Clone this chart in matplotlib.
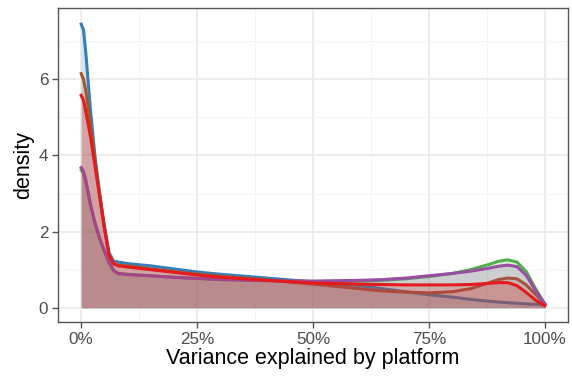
import numpy as np
import matplotlib
matplotlib.use("Agg")
import matplotlib.pyplot as plt
from matplotlib.ticker import FixedLocator, FuncFormatter

plt.rcParams['font.family'] = ['Liberation Sans', 'DejaVu Sans']

# share of variance explained by platform (0..1)
x = [0, 0.005, 0.01, 0.02, 0.03, 0.04, 0.05, 0.06, 0.07, 0.08,
     0.1, 0.15, 0.2, 0.25, 0.3, 0.4, 0.5, 0.6, 0.65, 0.7, 0.75, 0.8,
     0.84, 0.88, 0.9, 0.92, 0.94, 0.96, 0.98, 1.0]

# density, one list per group
blue = [7.45, 7.3, 6.7, 5.2, 3.95, 3.0, 2.15, 1.45, 1.22, 1.2,
        1.16, 1.1, 1.02, 0.94, 0.88, 0.78, 0.68, 0.58, 0.5, 0.42, 0.34, 0.28,
        0.22, 0.17, 0.15, 0.13, 0.12, 0.1, 0.09, 0.08]
green = [3.62, 3.53, 3.3, 2.7, 2.2, 1.8, 1.48, 1.18, 0.97, 0.89,
         0.88, 0.84, 0.8, 0.77, 0.74, 0.71, 0.69, 0.7, 0.72, 0.76, 0.82, 0.9,
         1.0, 1.14, 1.22, 1.26, 1.2, 0.95, 0.5, 0.1]
brown = [6.15, 6.0, 5.7, 4.8, 3.85, 2.95, 2.1, 1.4, 1.17, 1.12,
         1.1, 1.02, 0.95, 0.88, 0.83, 0.73, 0.62, 0.5, 0.44, 0.41, 0.39, 0.42,
         0.5, 0.66, 0.74, 0.78, 0.76, 0.6, 0.35, 0.1]
purple = [3.68, 3.58, 3.35, 2.72, 2.22, 1.82, 1.5, 1.2, 0.98, 0.9,
          0.87, 0.84, 0.8, 0.77, 0.74, 0.71, 0.7, 0.72, 0.74, 0.78, 0.84, 0.9,
          0.96, 1.04, 1.09, 1.12, 1.08, 0.85, 0.45, 0.1]
red = [5.58, 5.45, 5.15, 4.5, 3.7, 2.9, 2.1, 1.38, 1.15, 1.1,
       1.07, 1.0, 0.93, 0.86, 0.8, 0.72, 0.65, 0.62, 0.61, 0.6, 0.6, 0.6,
       0.61, 0.64, 0.66, 0.66, 0.58, 0.4, 0.2, 0.05]

series = [(blue, "#377EB8"), (green, "#4DAF4A"), (brown, "#A65628"),
          (purple, "#984EA3"), (red, "#E41A1C")]

fig = plt.figure(figsize=(5.72, 3.77), dpi=100)
ax = fig.add_axes([58/572, 1-322/377, 510/572, 314/377])

z = 3
for vals, col in series:
    ax.fill_between(x, 0, vals, color=col, alpha=0.2, linewidth=0, zorder=z)
    ax.plot(x, vals, color=col, lw=2.2, zorder=z+1, solid_joinstyle='round')
    z += 2

ax.set_xlim(-0.05, 1.05)
ax.set_ylim(-0.375, 7.875)

ax.xaxis.set_major_locator(FixedLocator([0, 0.25, 0.5, 0.75, 1.0]))
ax.xaxis.set_minor_locator(FixedLocator([0.125, 0.375, 0.625, 0.875]))
ax.yaxis.set_major_locator(FixedLocator([0, 2, 4, 6]))
ax.yaxis.set_minor_locator(FixedLocator([1, 3, 5, 7]))
ax.xaxis.set_major_formatter(FuncFormatter(lambda v, p: f"{v*100:.0f}%"))

ax.grid(which='major', color='#EBEBEB', lw=1.3, zorder=0)
ax.grid(which='minor', color='#F4F4F4', lw=0.7, zorder=0)
ax.set_axisbelow(True)

for s in ax.spines.values():
    s.set_color('#555555')
    s.set_linewidth(1.0)

ax.tick_params(which='major', length=4, width=1.0, color='#555555',
               labelcolor='#4D4D4D', labelsize=12.3, pad=3)
ax.tick_params(which='minor', length=0)

ax.set_xlabel("Variance explained by platform", fontsize=15.5, labelpad=1)
ax.set_ylabel("density", fontsize=15.5, labelpad=3)

fig.savefig("out.png", dpi=100)
